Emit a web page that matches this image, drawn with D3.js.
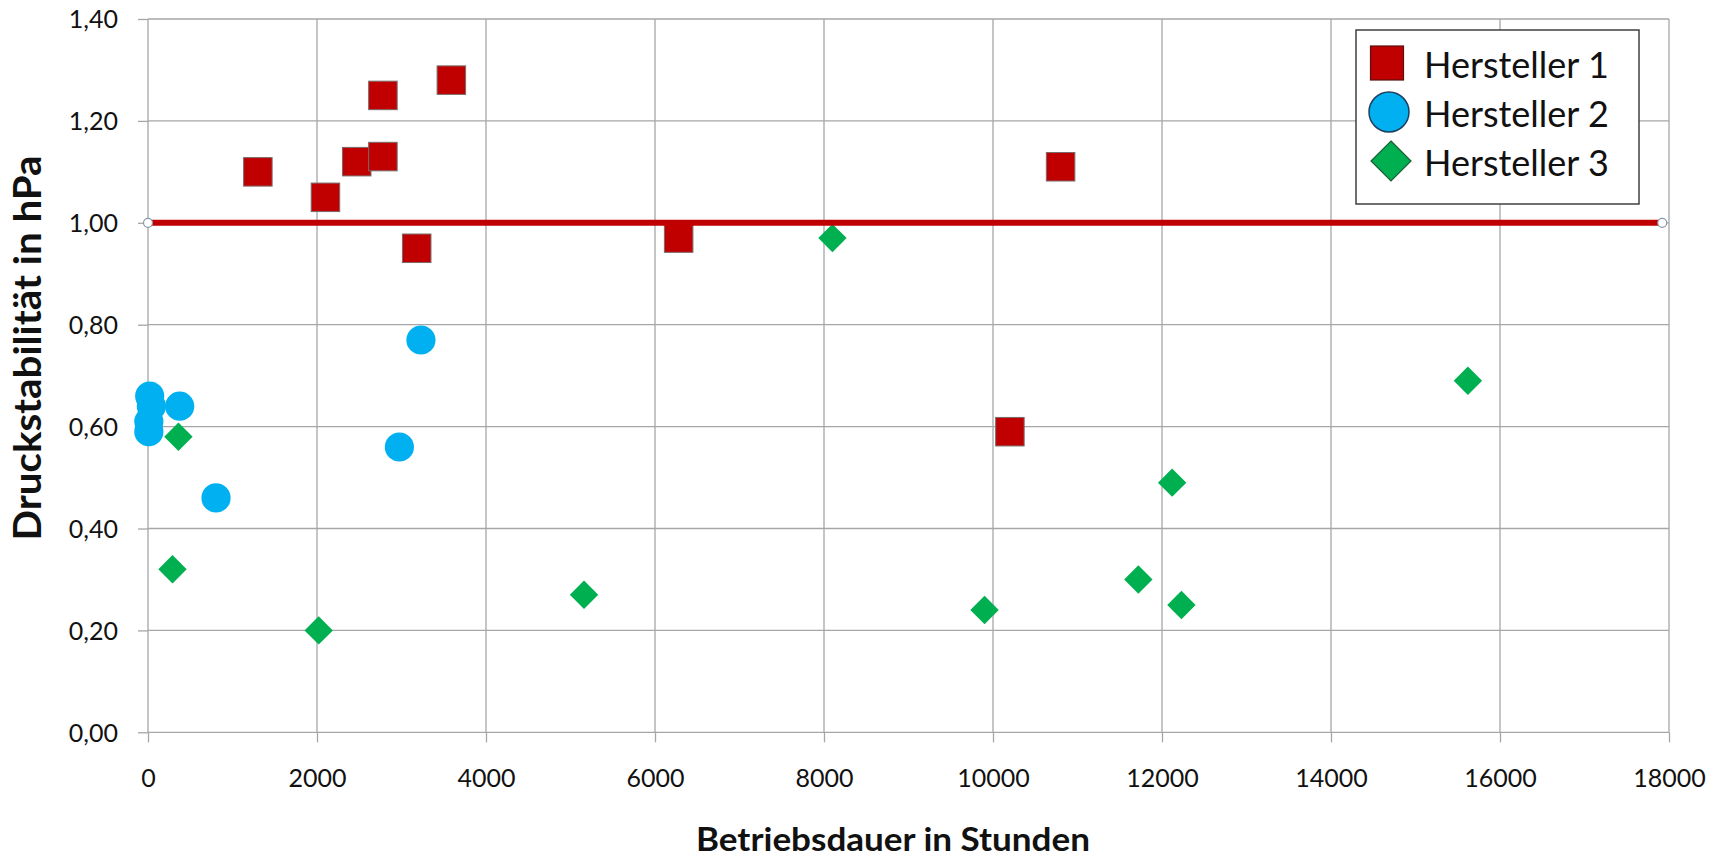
<!DOCTYPE html>
<html>
<head>
<meta charset="utf-8">
<script src="https://cdn.jsdelivr.net/npm/d3@7/dist/d3.min.js"></script>
<style>
  html, body { margin: 0; padding: 0; background: #ffffff; }
  svg { display: block; }
  text { font-family: Lato, "Open Sans", sans-serif; fill: #111; }
</style>
</head>
<body>
<svg id="chart" width="1723" height="859"></svg>
<script>
// ---- data ----
const seriesNames = ["Hersteller 1", "Hersteller 2", "Hersteller 3"];
const h1X = [1300, 2100, 2470, 2780, 2780, 3590, 3180, 6280, 10800, 10200];
const h1Y = [1.10, 1.05, 1.12, 1.13, 1.25, 1.28, 0.95, 0.97, 1.11, 0.59];
const h2X = [20, 40, 10, 10, 375, 805, 2975, 3230];
const h2Y = [0.66, 0.64, 0.61, 0.59, 0.64, 0.46, 0.56, 0.77];
const h3X = [290, 360, 2020, 5160, 8100, 9900, 11720, 12120, 12230, 15620];
const h3Y = [0.32, 0.58, 0.20, 0.27, 0.97, 0.24, 0.30, 0.49, 0.25, 0.69];
const limitX = [0, 17920];
const limitY = [1.0, 1.0];
const xTicks = [0, 2000, 4000, 6000, 8000, 10000, 12000, 14000, 16000, 18000];
const yTicks = [0, 0.2, 0.4, 0.6, 0.8, 1.0, 1.2, 1.4];
const xTitle = "Betriebsdauer in Stunden";
const yTitle = "Druckstabilität in hPa";

// ---- layout ----
const svg = d3.select("#chart");
const L = 148, R = 1669, T = 19, B = 732.3;
const x = d3.scaleLinear().domain([0, 18000]).range([L, R]);
const y = d3.scaleLinear().domain([0, 1.4]).range([B, T]);
const gridColor = "#a6a6a6";

// grid
const grid = svg.append("g");
grid.selectAll("line.v").data(xTicks).join("line")
  .attr("x1", d => x(d)).attr("x2", d => x(d))
  .attr("y1", T).attr("y2", B)
  .attr("stroke", gridColor).attr("stroke-width", 1.3);
grid.selectAll("line.h").data(yTicks).join("line")
  .attr("x1", L).attr("x2", R)
  .attr("y1", d => y(d)).attr("y2", d => y(d))
  .attr("stroke", gridColor).attr("stroke-width", 1.3);

// axes
const fmt = d => d3.format(".2f")(d).replace(".", ",");
const xAxis = svg.append("g").attr("transform", `translate(0,${B})`)
  .call(d3.axisBottom(x).tickValues(xTicks).tickSize(10).tickFormat(d3.format("d")));
xAxis.select(".domain").remove();
xAxis.selectAll(".tick line").attr("stroke", gridColor).attr("stroke-width", 1.3);
xAxis.selectAll(".tick text").attr("y", 46).attr("dy", "0.35em")
  .style("font-size", "25px").style("font-family", "Lato").attr("fill", "#111");

const yAxis = svg.append("g").attr("transform", `translate(${L},0)`)
  .call(d3.axisLeft(y).tickValues(yTicks).tickSize(10).tickPadding(20).tickFormat(fmt));
yAxis.select(".domain").remove();
yAxis.selectAll(".tick line").attr("stroke", gridColor).attr("stroke-width", 1.3);
yAxis.selectAll(".tick text").attr("dy", "0.35em")
  .style("font-size", "25px").style("font-family", "Lato").attr("fill", "#111");

// axis titles
svg.append("text").attr("x", 893).attr("y", 851).attr("text-anchor", "middle")
  .attr("textLength", 394).attr("lengthAdjust", "spacingAndGlyphs")
  .style("font-size", "33px").style("font-weight", "bold").text(xTitle);
svg.append("text").attr("transform", "translate(41,348) rotate(-90)")
  .attr("text-anchor", "middle")
  .attr("textLength", 385).attr("lengthAdjust", "spacingAndGlyphs")
  .style("font-size", "38px").style("font-weight", "bold").text(yTitle);

// series
const red = "#C00000", blue = "#00B0F0", green = "#00B050";
const s1 = d3.range(h1X.length).map(i => ({x: h1X[i], y: h1Y[i]}));
const s2 = d3.range(h2X.length).map(i => ({x: h2X[i], y: h2Y[i]}));
const s3 = d3.range(h3X.length).map(i => ({x: h3X[i], y: h3Y[i]}));

const sq = 28.5;
svg.append("g").selectAll("rect").data(s1).join("rect")
  .attr("x", d => x(d.x) - sq / 2).attr("y", d => y(d.y) - sq / 2)
  .attr("width", sq).attr("height", sq)
  .attr("fill", red).attr("stroke", "#7a6a6a").attr("stroke-width", 1);

svg.append("g").selectAll("circle").data(s2).join("circle")
  .attr("cx", d => x(d.x)).attr("cy", d => y(d.y)).attr("r", 14.6)
  .attr("fill", blue);

const dia = 14.2;
const diamond = (cx, cy, h) => `M${cx},${cy - h}L${cx + h},${cy}L${cx},${cy + h}L${cx - h},${cy}Z`;
svg.append("g").selectAll("path").data(s3).join("path")
  .attr("d", d => diamond(x(d.x), y(d.y), dia))
  .attr("fill", green);

// limit line
const lim = limitX.map((v, i) => ({x: v, y: limitY[i]}));
svg.append("path").datum(lim)
  .attr("d", d3.line().x(d => x(d.x)).y(d => y(d.y)))
  .attr("stroke", red).attr("stroke-width", 6).attr("fill", "none");
svg.append("g").selectAll("circle").data(lim).join("circle")
  .attr("cx", d => x(d.x)).attr("cy", d => y(d.y)).attr("r", 4.5)
  .attr("fill", "#fff").attr("stroke", "#8a9aa8").attr("stroke-width", 1.2);

// legend
const lg = svg.append("g");
lg.append("rect").attr("x", 1356).attr("y", 30).attr("width", 283).attr("height", 174)
  .attr("fill", "#fff").attr("stroke", "#404040").attr("stroke-width", 1.5);
const rowY = [63, 112, 161];
lg.append("rect").attr("x", 1387 - 16.5).attr("y", rowY[0] - 17).attr("width", 33).attr("height", 34)
  .attr("fill", red).attr("stroke", "#5a1010").attr("stroke-width", 1.2);
lg.append("circle").attr("cx", 1389).attr("cy", rowY[1]).attr("r", 20)
  .attr("fill", blue).attr("stroke", "#1f3f5f").attr("stroke-width", 1.5);
lg.append("path").attr("d", diamond(1391, rowY[2], 20))
  .attr("fill", green).attr("stroke", "#1d5b33").attr("stroke-width", 1.2);
lg.selectAll("text").data(seriesNames).join("text")
  .attr("x", 1424).attr("y", (d, i) => rowY[i] + 15)
  .style("font-size", "36px").text(d => d);
</script>
</body>
</html>
